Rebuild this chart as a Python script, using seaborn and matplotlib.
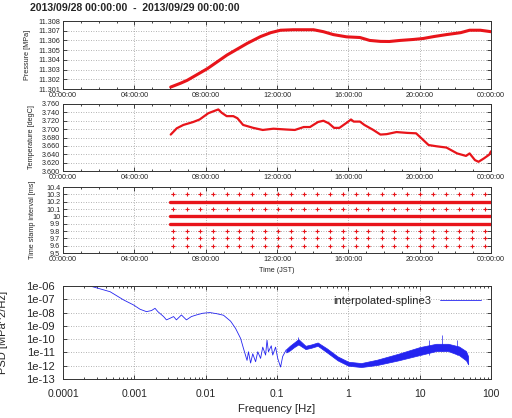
import numpy as np
import pandas as pd
import matplotlib
matplotlib.use('Agg')
import matplotlib.pyplot as plt
import matplotlib.ticker as mticker
import seaborn as sns

sns.set_style('ticks')
plt.rcParams['font.family'] = ['Liberation Sans', 'DejaVu Sans']

# --- data ---
title = '2013/09/28 00:00:00  -  2013/09/29 00:00:00'
time_labels = ['00:00:00', '04:00:00', '08:00:00', '12:00:00', '16:00:00', '20:00:00', '00:00:00']

p_hour = [6.04, 6.6, 6.97, 8.1, 9.2, 10.33, 11.08, 11.65, 12.2, 12.9, 14.05, 14.6, 15.16,
          15.9, 16.65, 17.2, 17.8, 18.3, 18.9, 19.65, 20.2, 20.8, 21.5, 22.3, 22.8, 23.4, 24.0]
pressure = [11.3012, 11.3016, 11.3019, 11.3031, 11.3045, 11.3057, 11.3064, 11.3068, 11.30705,
            11.3071, 11.3071, 11.3069, 11.3066, 11.30637, 11.3063, 11.3060, 11.3059, 11.30589,
            11.3060, 11.3061, 11.3062, 11.3064, 11.3066, 11.3068, 11.30705, 11.30705, 11.3069]

t_hour = [6.04, 6.38, 6.75, 7.3, 7.66, 8.15, 8.52, 8.71, 8.9, 9.18, 9.55, 9.78, 10.1, 10.67,
          11.2, 11.8, 12.55, 13.0, 13.5, 13.85, 14.3, 14.6, 14.9, 15.2, 15.5, 15.9, 16.15, 16.3,
          16.65, 16.9, 17.4, 17.8, 18.15, 18.7, 19.3, 19.8, 20.1, 20.5, 20.95, 21.5, 22.1, 22.6,
          22.8, 23.1, 23.3, 23.6, 23.9, 24.0]
temperature = [3.687, 3.702, 3.710, 3.717, 3.723, 3.738, 3.744, 3.747, 3.739, 3.731, 3.731,
               3.726, 3.710, 3.703, 3.698, 3.701, 3.699, 3.698, 3.705, 3.705, 3.717, 3.720,
               3.714, 3.703, 3.703, 3.715, 3.723, 3.718, 3.718, 3.710, 3.698, 3.687, 3.688,
               3.693, 3.691, 3.690, 3.678, 3.662, 3.659, 3.656, 3.642, 3.636, 3.642, 3.626,
               3.622, 3.630, 3.639, 3.647]

ts_line_levels = [10.2, 10.0, 9.9]
ts_line_span = [6.0, 24.0]
ts_dot_levels = [10.3, 10.1, 9.8, 9.7, 9.6]
ts_dot_hours = [6.19, 6.94, 7.68, 8.43, 9.18, 9.89, 10.62, 11.33, 12.06, 12.79, 13.52, 14.23,
                14.97, 15.72, 16.42, 17.12, 17.87, 18.58, 19.31, 20.02, 20.77, 21.48, 22.23,
                22.92, 23.67]

# PSD (log10 values) - line part
psd_logf = [-3.62, -3.34, -3.15, -3.01, -2.92, -2.83, -2.76, -2.71, -2.67, -2.59, -2.55, -2.50,
            -2.45, -2.41, -2.34, -2.27, -2.20, -2.13, -2.04, -1.94, -1.85, -1.75, -1.65, -1.58,
            -1.51, -1.47, -1.42, -1.40, -1.37, -1.34, -1.30, -1.27, -1.23, -1.20, -1.16, -1.14,
            -1.12, -1.08, -1.06, -1.02, -0.99, -0.95, -0.92, -0.87]
psd_logp = [-6.0, -6.43, -7.05, -7.43, -7.75, -7.93, -7.85, -7.68, -7.93, -8.3, -8.55, -8.43,
            -8.3, -8.55, -8.18, -8.55, -8.3, -8.18, -8.05, -8.0, -8.08, -8.2, -8.65, -9.2,
            -9.95, -10.7, -11.6, -10.95, -11.8, -11.1, -11.7, -10.95, -11.45, -10.6, -11.2,
            -10.08, -10.95, -10.5, -11.2, -10.6, -11.45, -12.1, -11.3, -10.8]
# PSD noisy band (log10 values): lower / upper envelope
band_logf = [-0.87, -0.82, -0.76, -0.7, -0.6, -0.52, -0.43, -0.3, -0.15, 0.0, 0.18, 0.4, 0.7,
             1.0, 1.23, 1.4, 1.55, 1.65, 1.68]
band_low = [-11.0, -10.85, -10.6, -10.4, -10.75, -10.65, -10.5, -11.0, -11.6, -12.0,
            -12.1, -11.95, -11.6, -11.2, -10.9, -10.9, -11.2, -11.6, -11.9]
band_high = [-10.75, -10.5, -10.25, -10.0, -10.5, -10.4, -10.25, -10.7, -11.3, -11.7,
             -11.8, -11.55, -11.1, -10.6, -10.35, -10.35, -10.55, -10.9, -11.3]
spike_logf = [-0.7, 1.13, 1.32, 1.52]
spike_top = [-9.85, -10.1, -9.7, -10.05]
legend_label = 'interpolated-spline3'

red = '#e8141a'
blue = '#2424f0'
grid_kw = dict(color='#9a9a9a', linestyle=(0, (1, 2)), linewidth=0.6)

fig = plt.figure(figsize=(5.12, 4.18), dpi=100)
W, H = 512, 418


def box(l, t, r, b):
    return [l / W, 1 - b / H, (r - l) / W, (b - t) / H]


def gp_axes(ax, fs):
    ax.tick_params(which='both', direction='in', top=True, right=True, labelsize=fs,
                   pad=2, width=0.6)
    ax.tick_params(which='major', length=3)
    ax.tick_params(which='minor', length=1.5)
    for s in ax.spines.values():
        s.set_linewidth(0.7)
        s.set_color('#333333')


def time_axis(ax):
    ax.set_xlim(0, 24)
    ax.set_xticks(range(0, 25, 4))
    ax.set_xticklabels(time_labels)
    ax.xaxis.set_minor_locator(mticker.MultipleLocator(1))
    ax.grid(True, which='major', **grid_kw)


fig.text(30 / W, 1 - 8 / H, title, fontsize=7.6, fontweight='bold', va='center', ha='left')

# Panel 1: pressure
ax1 = fig.add_axes(box(63, 21, 491, 89))
df1 = pd.DataFrame({'hour': p_hour, 'p': pressure})
sns.lineplot(data=df1, x='hour', y='p', ax=ax1, color=red, linewidth=2.2, sort=False, estimator=None)
time_axis(ax1)
ax1.set_ylim(11.301, 11.308)
ax1.set_yticks(np.arange(11.301, 11.3085, 0.001))
ax1.yaxis.set_major_formatter(mticker.FormatStrFormatter('%.3f'))
ax1.set_xlabel('')
ax1.set_ylabel('Pressure [MPa]', fontsize=5.2, labelpad=5)
gp_axes(ax1, 5.2)

# Panel 2: temperature
ax2 = fig.add_axes(box(63, 104, 491, 171))
df2 = pd.DataFrame({'hour': t_hour, 't': temperature})
sns.lineplot(data=df2, x='hour', y='t', ax=ax2, color=red, linewidth=1.6, sort=False, estimator=None)
time_axis(ax2)
ax2.set_ylim(3.600, 3.760)
ax2.set_yticks(np.arange(3.600, 3.7605, 0.02))
ax2.yaxis.set_major_formatter(mticker.FormatStrFormatter('%.3f'))
ax2.set_xlabel('')
ax2.set_ylabel('Temperature [degC]', fontsize=5.2, labelpad=5)
gp_axes(ax2, 5.2)

# Panel 3: time stamp interval
ax3 = fig.add_axes(box(63, 187, 491, 253))
for lv in ts_line_levels:
    d = pd.DataFrame({'hour': ts_line_span, 'v': [lv, lv]})
    sns.lineplot(data=d, x='hour', y='v', ax=ax3, color=red, linewidth=2.4, estimator=None)
dots = pd.DataFrame([(h, lv) for lv in ts_dot_levels for h in ts_dot_hours], columns=['hour', 'v'])
sns.scatterplot(data=dots, x='hour', y='v', ax=ax3, color=red, marker='+', s=6, linewidth=0.8)
time_axis(ax3)
ax3.set_ylim(9.5, 10.4)
ax3.set_yticks(np.arange(9.5, 10.45, 0.1))
ax3.yaxis.set_major_formatter(mticker.FuncFormatter(lambda v, p: '%g' % round(v, 1)))
ax3.set_xlabel('Time (JST)', fontsize=5.2, labelpad=3)
ax3.set_ylabel('Time stamp interval [ms]', fontsize=5.2, labelpad=7)
gp_axes(ax3, 5.2)

# Panel 4: PSD
ax4 = fig.add_axes(box(63, 286, 491, 379))
dfp = pd.DataFrame({'f': 10 ** np.array(psd_logf), 'p': 10 ** np.array(psd_logp)})
sns.lineplot(data=dfp, x='f', y='p', ax=ax4, color=blue, linewidth=0.6, sort=False,
             estimator=None, label=legend_label)
bf = 10 ** np.array(band_logf)
ax4.fill_between(bf, 10 ** np.array(band_low), 10 ** np.array(band_high), color=blue,
                 linewidth=0.5, edgecolor=blue)
ax4.vlines(10 ** np.array(spike_logf), 10 ** np.array(band_low)[[3, 13, 15, 16]],
           10 ** np.array(spike_top), color=blue, linewidth=0.5)
ax4.set_xscale('log')
ax4.set_yscale('log')
ax4.set_xlim(1e-4, 100)
ax4.set_ylim(1e-13, 1e-6)
ax4.xaxis.set_major_locator(mticker.LogLocator(base=10, numticks=10))
ax4.xaxis.set_major_formatter(mticker.FuncFormatter(lambda v, p: '%g' % v))
ax4.yaxis.set_major_locator(mticker.LogLocator(base=10, numticks=10))
ax4.yaxis.set_major_formatter(mticker.FuncFormatter(lambda v, p: '1e-%02d' % round(-np.log10(v))))
ax4.yaxis.set_minor_locator(mticker.NullLocator())
ax4.grid(True, which='major', **grid_kw)
gp_axes(ax4, 7.5)
ax4.tick_params(axis='y', labelsize=8, pad=6)
ax4.tick_params(axis='x', pad=7)
ax4.set_xlabel('Frequency [Hz]', fontsize=8.2, labelpad=4)
ax4.set_ylabel('PSD [MPa^2/Hz]', fontsize=8, labelpad=2)
ax4.yaxis.set_label_coords(-0.128, 0.5)
ax4.legend(loc='upper right', frameon=False, fontsize=8, markerfirst=False,
           handlelength=3.7, borderaxespad=0.5)

fig.savefig('out.png', dpi=100)
